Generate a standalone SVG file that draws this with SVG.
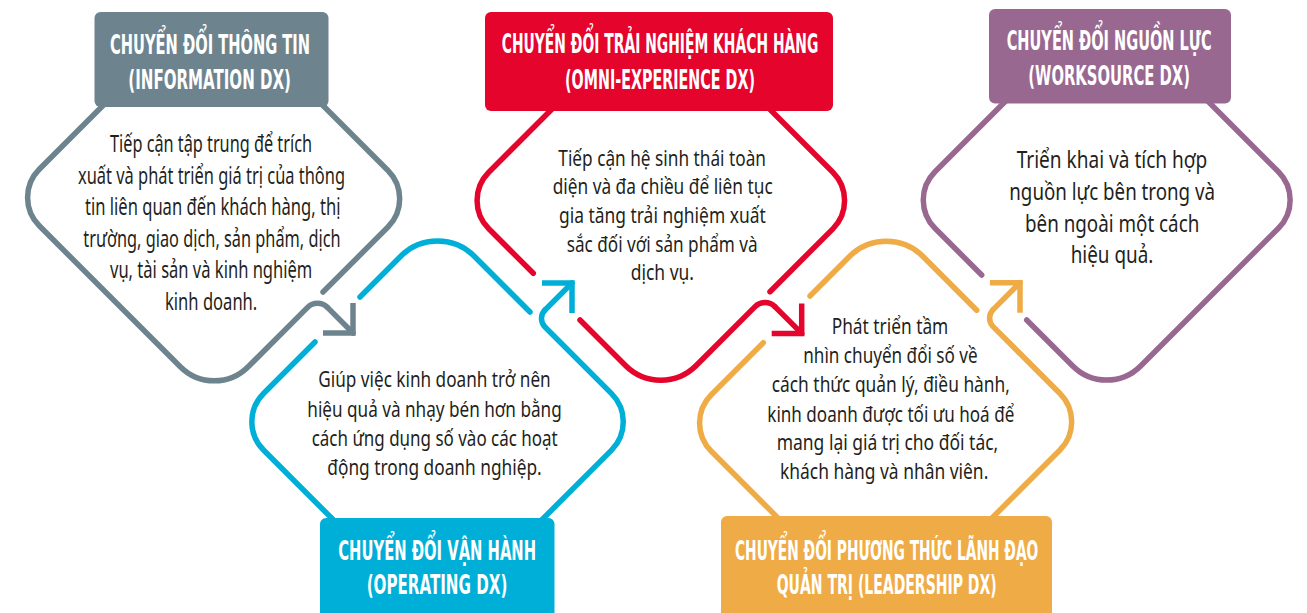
<svg xmlns="http://www.w3.org/2000/svg" width="1307" height="613" viewBox="0 0 1307 613">
<style>
.o{fill:none;stroke-width:5.5;stroke-linecap:round;stroke-linejoin:round}
.ah{fill:none;stroke-width:5.5;stroke-linecap:butt;stroke-linejoin:miter}
.grey{stroke:#6D848E}.blue{stroke:#00AFD8}.red{stroke:#E5042C}.orange{stroke:#EFAC46}.purple{stroke:#986891}
.t{font-family:'DejaVu Sans Condensed','DejaVu Sans',sans-serif;font-weight:bold;font-size:26px;fill:#fff}
.b{font-family:'Noto Sans','DejaVu Sans',sans-serif;font-size:22px;fill:#231F20}
.bl{font-size:23.4px}
</style>
<rect width="1307" height="613" fill="#fff"/>
<g id="node-information">
<path class="o grey" d="M108.5,100 L39.28,169.22 A40,40 0 0 0 39.28,225.78 L180.31,366.81 A48,48 0 0 0 248.19,366.81 L307.6,307.4 A14,14 0 0 1 327.4,307.4"/>
<path class="o grey" d="M323,292 L387.97,227.03 A40,40 0 0 0 387.97,170.47 L317.5,100"/>
<rect x="94.5" y="12" width="234" height="95" rx="6" fill="#6D848E"/>
<text class="t" x="110" y="54" textLength="200" lengthAdjust="spacingAndGlyphs">CHUYỂN ĐỔI THÔNG TIN</text>
<text class="t" x="128.3" y="89" textLength="162.7" lengthAdjust="spacingAndGlyphs">(INFORMATION DX)</text>
<g class="b bl">
<text x="110" y="152" textLength="202" lengthAdjust="spacingAndGlyphs">Tiếp cận tập trung để trích</text>
<text x="78" y="183.5" textLength="267" lengthAdjust="spacingAndGlyphs">xuất và phát triển giá trị của thông</text>
<text x="85" y="215" textLength="255.5" lengthAdjust="spacingAndGlyphs">tin liên quan đến khách hàng, thị</text>
<text x="83.3" y="246.7" textLength="257.3" lengthAdjust="spacingAndGlyphs">trường, giao dịch, sản phẩm, dịch</text>
<text x="110" y="278.3" textLength="202.3" lengthAdjust="spacingAndGlyphs">vụ, tài sản và kinh nghiệm</text>
<text x="165" y="310" textLength="92.3" lengthAdjust="spacingAndGlyphs">kinh doanh.</text>
</g>
</g>
<g id="node-operating">
<path class="o blue" d="M360,297 L400.73,256.27 A52,52 0 0 1 474.27,256.27 L530,312"/>
<path class="o blue" d="M338.5,525 L263.53,450.03 A40,40 0 0 1 263.53,393.47 L315,342"/>
<path class="o blue" d="M536.7,525 L611.57,450.13 A40,40 0 0 0 611.57,393.57 L544.99,327 A12,12 0 0 1 544.99,310.01"/>
<rect x="320" y="518" width="234.5" height="105" rx="6" fill="#00AFD8"/>
<text class="t" x="338.3" y="560" textLength="197.7" lengthAdjust="spacingAndGlyphs">CHUYỂN ĐỔI VẬN HÀNH</text>
<text class="t" x="366.7" y="594.3" textLength="140.6" lengthAdjust="spacingAndGlyphs">(OPERATING DX)</text>
<g class="b">
<text x="318.3" y="386.7" textLength="232.4" lengthAdjust="spacingAndGlyphs">Giúp việc kinh doanh trở nên</text>
<text x="307.3" y="416.7" textLength="254.4" lengthAdjust="spacingAndGlyphs">hiệu quả và nhạy bén hơn bằng</text>
<text x="311.7" y="446" textLength="246" lengthAdjust="spacingAndGlyphs">cách ứng dụng số vào các hoạt</text>
<text x="327.3" y="475" textLength="214.4" lengthAdjust="spacingAndGlyphs">động trong doanh nghiệp.</text>
</g>
</g>
<g id="node-omni-experience">
<path class="o red" d="M556,105 L488.78,172.22 A40,40 0 0 0 488.78,228.78 L533.3,273.3"/>
<path class="o red" d="M580,320 L625.49,365.49 A50,50 0 0 0 696.21,365.49 L755.1,306.6 A14,14 0 0 1 774.9,306.6"/>
<path class="o red" d="M770,291.7 L832.87,228.83 A40,40 0 0 0 832.87,172.27 L765.6,105"/>
<rect x="485" y="12" width="348" height="99" rx="6" fill="#E5042C"/>
<text class="t" x="501.7" y="53.3" textLength="316.6" lengthAdjust="spacingAndGlyphs">CHUYỂN ĐỔI TRẢI NGHIỆM KHÁCH HÀNG</text>
<text class="t" x="565" y="89.3" textLength="190" lengthAdjust="spacingAndGlyphs">(OMNI-EXPERIENCE DX)</text>
<g class="b">
<text x="558.3" y="165.7" textLength="207.7" lengthAdjust="spacingAndGlyphs">Tiếp cận hệ sinh thái toàn</text>
<text x="552.7" y="194.3" textLength="220" lengthAdjust="spacingAndGlyphs">diện và đa chiều để liên tục</text>
<text x="559" y="222.7" textLength="206.7" lengthAdjust="spacingAndGlyphs">gia tăng trải nghiệm xuất</text>
<text x="566.7" y="251.7" textLength="191" lengthAdjust="spacingAndGlyphs">sắc đối với sản phẩm và</text>
<text x="630.7" y="280" textLength="63.3" lengthAdjust="spacingAndGlyphs">dịch vụ.</text>
</g>
</g>
<g id="node-leadership">
<path class="o orange" d="M810,296 L849.48,256.52 A52,52 0 0 1 923.02,256.52 L976.7,310.2"/>
<path class="o orange" d="M785,525 L711.28,451.28 A40,40 0 0 1 711.28,394.72 L763.3,342.7"/>
<path class="o orange" d="M985,525 L1059.97,450.03 A40,40 0 0 0 1059.97,393.47 L993.09,326.59 A12,12 0 0 1 993.09,309.61"/>
<rect x="721" y="516" width="331" height="107" rx="6" fill="#EFAC46"/>
<text class="t" x="735" y="560" textLength="303.3" lengthAdjust="spacingAndGlyphs">CHUYỂN ĐỔI PHƯƠNG THỨC LÃNH ĐẠO</text>
<text class="t" x="776.7" y="594.3" textLength="220" lengthAdjust="spacingAndGlyphs">QUẢN TRỊ (LEADERSHIP DX)</text>
<g class="b">
<text x="831.7" y="334" textLength="116.6" lengthAdjust="spacingAndGlyphs">Phát triển tầm</text>
<text x="803.3" y="362.7" textLength="174.4" lengthAdjust="spacingAndGlyphs">nhìn chuyển đổi số về</text>
<text x="771.7" y="392.3" textLength="238.3" lengthAdjust="spacingAndGlyphs">cách thức quản lý, điều hành,</text>
<text x="767.3" y="421.7" textLength="247" lengthAdjust="spacingAndGlyphs">kinh doanh được tối ưu hoá để</text>
<text x="776.7" y="450" textLength="221.6" lengthAdjust="spacingAndGlyphs">mang lại giá trị cho đối tác,</text>
<text x="780" y="479.3" textLength="208.3" lengthAdjust="spacingAndGlyphs">khách hàng và nhân viên.</text>
</g>
</g>
<g id="node-worksource">
<path class="o purple" d="M1008.7,98 L934.98,171.72 A40,40 0 0 0 934.98,228.28 L981.7,275"/>
<path class="o purple" d="M1026.7,320 L1072.76,366.06 A48,48 0 0 0 1140.64,366.06 L1278.42,228.28 A40,40 0 0 0 1278.42,171.72 L1204.7,98"/>
<rect x="989" y="9" width="242" height="94.5" rx="6" fill="#986891"/>
<text class="t" x="1006.7" y="50" textLength="205" lengthAdjust="spacingAndGlyphs">CHUYỂN ĐỔI NGUỒN LỰC</text>
<text class="t" x="1028.3" y="85" textLength="161.7" lengthAdjust="spacingAndGlyphs">(WORKSOURCE DX)</text>
<g class="b bl">
<text x="1016.7" y="168.3" textLength="190.6" lengthAdjust="spacingAndGlyphs">Triển khai và tích hợp</text>
<text x="1009.3" y="200" textLength="205.7" lengthAdjust="spacingAndGlyphs">nguồn lực bên trong và</text>
<text x="1025" y="231.7" textLength="174.3" lengthAdjust="spacingAndGlyphs">bên ngoài một cách</text>
<text x="1070.7" y="263.3" textLength="82.6" lengthAdjust="spacingAndGlyphs">hiệu quả.</text>
</g>
</g>
<g id="connectors">
<path class="o grey" d="M327.4,307.4 L353,333"/>
<path class="ah grey" d="M323,333 L353,333 L353,303"/>
<path class="o blue" d="M544.99,310.01 L572,283"/>
<path class="ah blue" d="M542,283 L572,283 L572,313"/>
<path class="o red" d="M774.9,306.6 L801.7,333.4"/>
<path class="ah red" d="M771.7,333.4 L801.7,333.4 L801.7,303.4"/>
<path class="o orange" d="M993.09,309.61 L1020,282.7"/>
<path class="ah orange" d="M990,282.7 L1020,282.7 L1020,312.7"/>
</g>
</svg>
